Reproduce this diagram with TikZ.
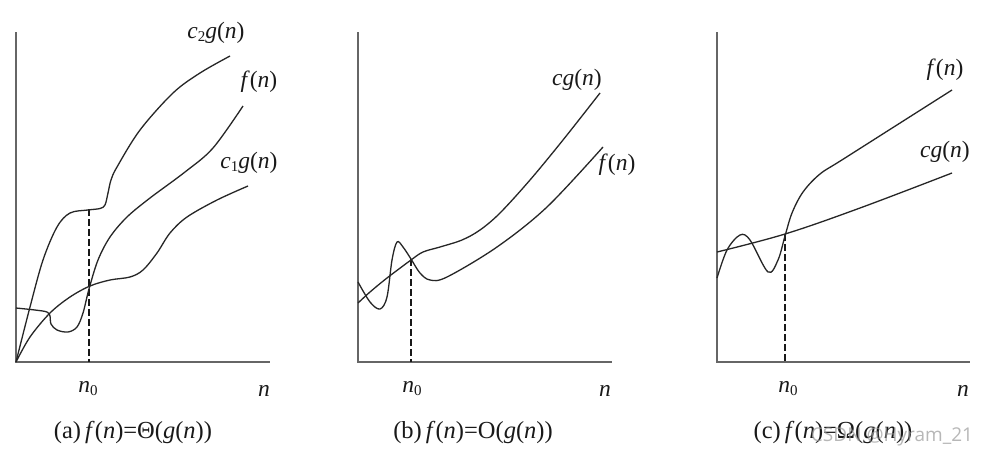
\documentclass[tikz,border=0pt]{standalone}
\usepackage{fontspec}
\setmainfont{Liberation Serif}
\newfontfamily\wmfont{Open Sans}
\newcommand{\vi}[1]{\textit{#1}}
\newcommand{\sbs}[1]{\raisebox{-0.28ex}{\fontsize{15}{16}\selectfont #1}}
\begin{document}
\begin{tikzpicture}[x=1pt,y=-1pt,
  axis/.style={draw=black!60,line width=1.8pt},
  curve/.style={draw=black!85,line width=1.3pt,smooth,tension=0.55},
  guide/.style={draw=black!90,line width=2.3pt,dash pattern=on 6.5pt off 3.5pt},
  lbl/.style={inner sep=0pt,text=black!90,font=\fontsize{23.5}{26}\selectfont},
  captxt/.style={inner sep=0pt,text=black!90,font=\fontsize{24.5}{27}\selectfont}]
\useasboundingbox[fill=white] (0,0) rectangle (984,458);
% ---------- panel (a)
\coordinate (aT) at (16,32); \coordinate (aO) at (16,362); \coordinate (aR) at (270,362);
\draw[axis] (aT) -- (aO) -- (aR);
\coordinate (aD) at (89,209); \coordinate (aB) at (89,362);
\draw[guide] (aD) -- (aB);
\draw[curve] plot coordinates {(16,362) (30,307) (43,260) (57,227) (70,213) (88,210) (100,208.5) (105,205) (108,193) (111,180) (117,167) (140,130) (173,93) (200,73) (230,56)};
\draw[curve] plot coordinates {(16,308) (35,310) (47,312) (50,316) (51,324) (57,330) (68,332) (77,327) (83,313) (89,289) (98,260) (110,237) (127,217) (150,198) (185,172) (213,148) (243,106)};
\draw[curve] plot coordinates {(16,362) (30,337) (50,313) (70,297) (90,286) (110,280) (130,277) (143,270) (157,253) (170,233) (187,217) (217,200) (248,186)};
\node[lbl] (ac2) at (216,33) {\vi{c}\sbs{2}\vi{g}(\vi{n})};
\node[lbl] (af) at (259,82) {\vi{f}(\vi{n})};
\node[lbl] (ac1) at (249,163) {\vi{c}\sbs{1}\vi{g}(\vi{n})};
\node[lbl] (an0) at (88,389) {\vi{n}\sbs{0}};
\node[lbl] (an) at (264,391) {\vi{n}};
\node[captxt] (acap) at (133,432) {(a)\,\vi{f}(\vi{n})=\symbol{"0398}(\vi{g}(\vi{n}))};
% ---------- panel (b)
\coordinate (bT) at (358,32); \coordinate (bO) at (358,362); \coordinate (bR) at (612,362);
\draw[axis] (bT) -- (bO) -- (bR);
\coordinate (bD) at (411,259); \coordinate (bB) at (411,362);
\draw[guide] (bD) -- (bB);
\draw[curve] plot coordinates {(358,303) (370,292) (387,278) (411,260) (423,252) (440,247) (462,240) (480,230) (500,213) (530,180) (563,140) (600,93)};
\draw[curve] plot coordinates {(358,282) (370,302) (380,309) (387,297) (392,260) (397,242) (403,247) (411,259) (420,273) (430,280) (447,277) (497,247) (547,207) (603,147)};
\node[lbl] (bcg) at (577,80) {\vi{cg}(\vi{n})};
\node[lbl] (bf) at (617,165) {\vi{f}(\vi{n})};
\node[lbl] (bn0) at (412,389) {\vi{n}\sbs{0}};
\node[lbl] (bn) at (605,391) {\vi{n}};
\node[captxt] (bcap) at (473,432) {(b)\,\vi{f}(\vi{n})=O(\vi{g}(\vi{n}))};
% ---------- panel (c)
\coordinate (cT) at (717,32); \coordinate (cO) at (717,362); \coordinate (cR) at (970,362);
\draw[axis] (cT) -- (cO) -- (cR);
\coordinate (cD) at (785,234); \coordinate (cB) at (785,362);
\draw[guide] (cD) -- (cB);
\draw[curve,tension=0.6] plot coordinates {(717,252) (785,234) (860,208) (952,173)};
\draw[curve] plot coordinates {(717,278) (727,250) (740,235) (750,240) (768,272) (778,260) (785,236) (792,213) (803,192) (820,174) (845,158) (952,90)};
\node[lbl] (cf) at (945,70) {\vi{f}(\vi{n})};
\node[lbl] (ccg) at (945,152) {\vi{cg}(\vi{n})};
\node[lbl] (cn0) at (788,389) {\vi{n}\sbs{0}};
\node[lbl] (cn) at (963,391) {\vi{n}};
\node[captxt] (ccap) at (833,432) {(c)\,\vi{f}(\vi{n})=\symbol{"03A9}(\vi{g}(\vi{n}))};
\node[inner sep=0pt,text=black!40,opacity=0.7,font=\wmfont\fontsize{19}{22}\selectfont] (wm) at (892,437) {CSDN @Hyram\_21};
\end{tikzpicture}
\end{document}
